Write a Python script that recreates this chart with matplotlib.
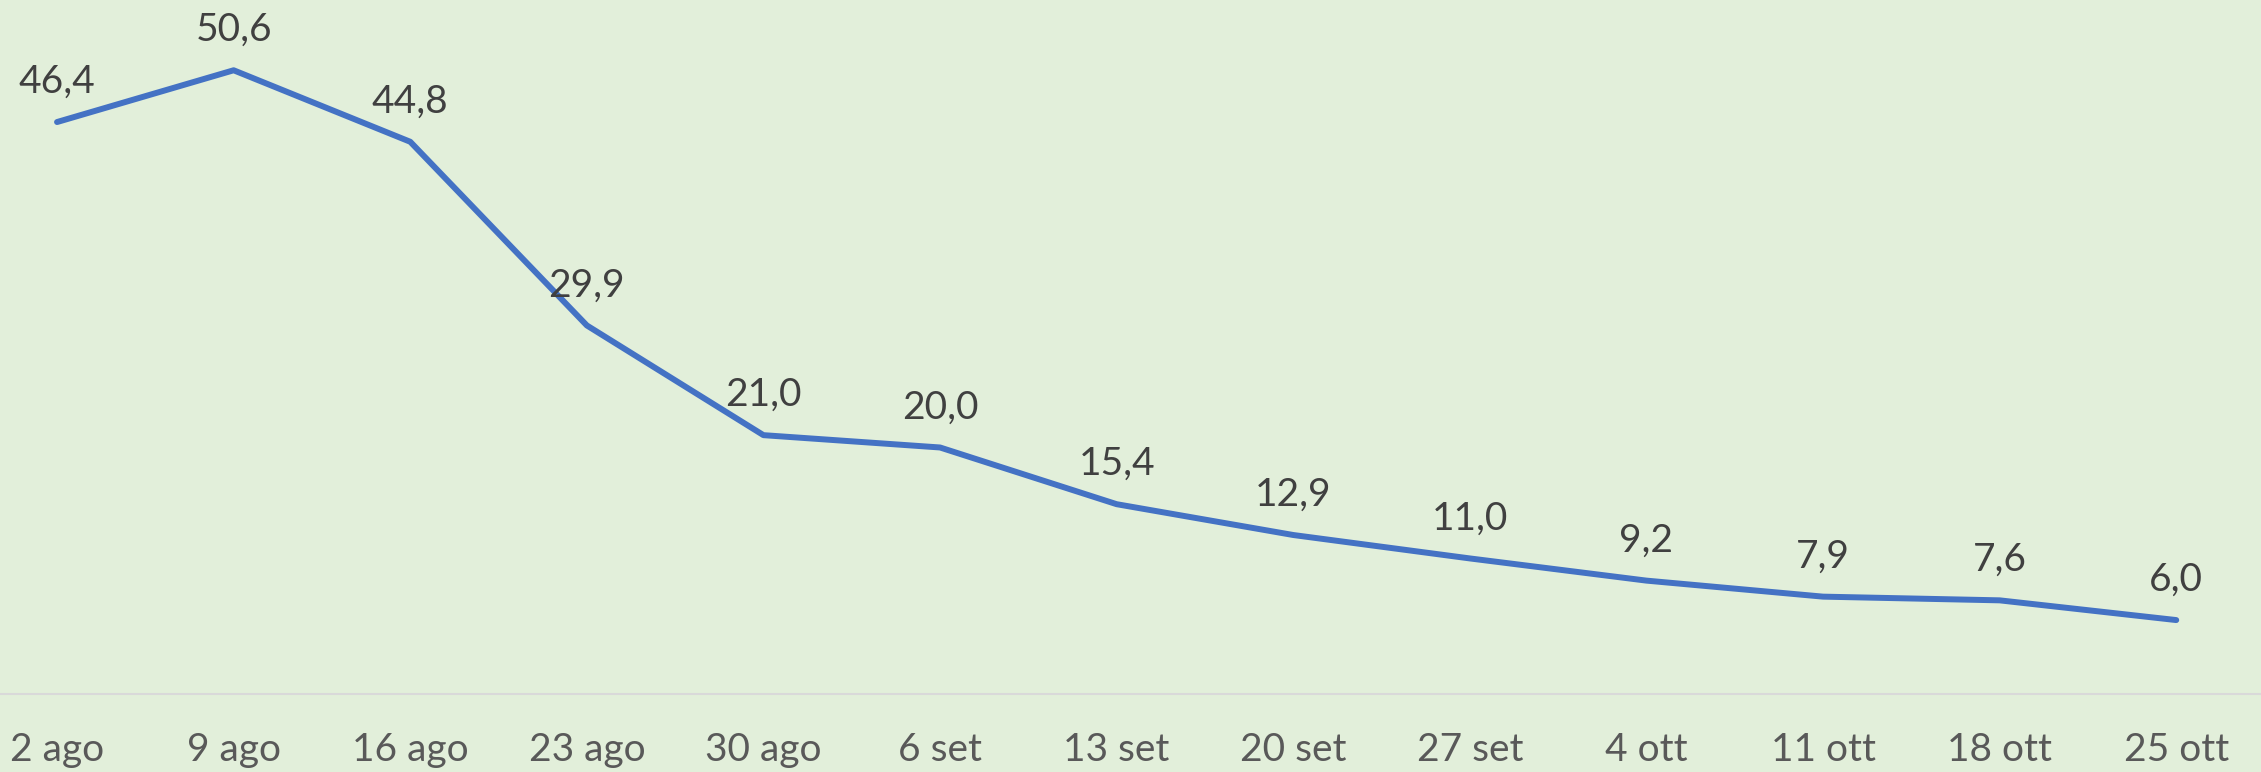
import numpy as np
import matplotlib.pyplot as plt

# weekly values
labels = ["2 ago", "9 ago", "16 ago", "23 ago", "30 ago", "6 set", "13 set",
          "20 set", "27 set", "4 ott", "11 ott", "18 ott", "25 ott"]
values = [46.4, 50.6, 44.8, 29.9, 21.0, 20.0, 15.4, 12.9, 11.0, 9.2, 7.9, 7.6, 6.0]

plt.rcParams['font.family'] = ['Lato', 'DejaVu Sans']

bg = "#E2EFDA"
fig = plt.figure(figsize=(22.61, 7.72), dpi=100)
fig.patch.set_facecolor(bg)
ax = fig.add_axes([0, 0.101, 1, 0.899])
ax.set_facecolor(bg)

x = np.arange(len(values))
ax.plot(x, values, color="#4472C4", lw=4.3, solid_capstyle="round",
        solid_joinstyle="round")

for xi, v in zip(x, values):
    ax.annotate(f"{v:.1f}".replace(".", ","), (xi, v), xytext=(0, 21),
                textcoords="offset points", ha="center", va="baseline",
                fontsize=28, color="#404040")

ax.set_xlim(-0.323, 12.48)
ax.set_ylim(0, 56.3)
ax.set_xticks(x)
ax.set_xticklabels(labels, fontsize=28, color="#595959")
ax.tick_params(axis="x", length=0, pad=27)
ax.set_yticks([])
for side in ["top", "left", "right"]:
    ax.spines[side].set_visible(False)
ax.spines["bottom"].set_color("#D9D9D9")
ax.spines["bottom"].set_linewidth(1.5)

fig.savefig("out.png", dpi=100, facecolor=bg)
